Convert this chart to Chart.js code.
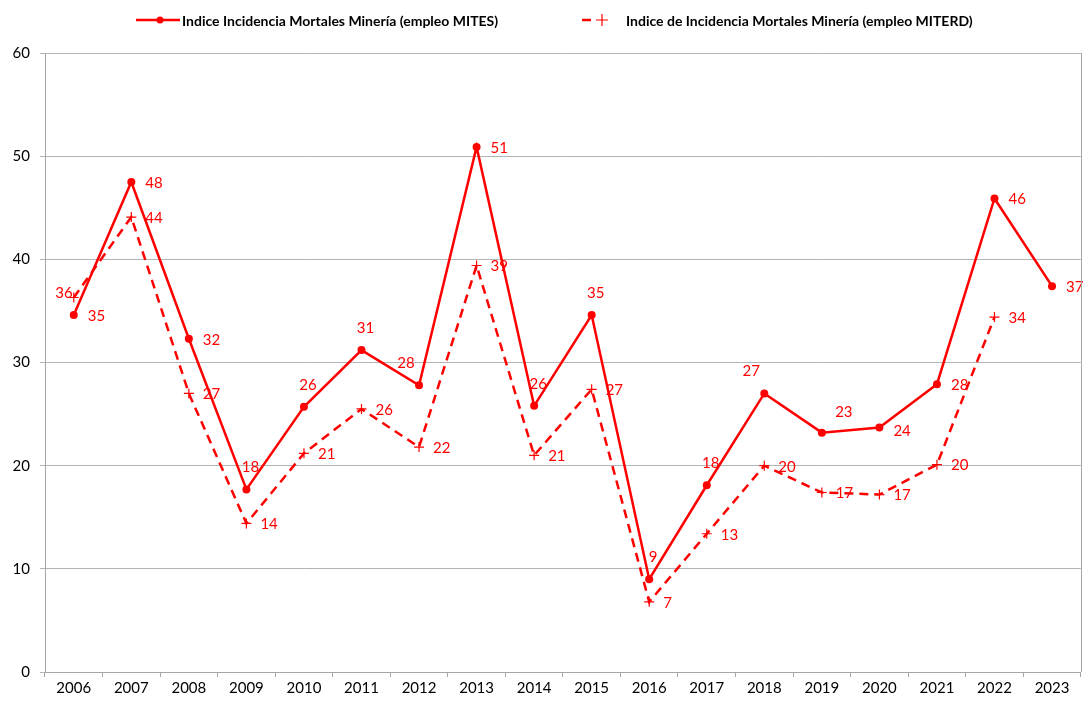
<!DOCTYPE html>
<html>
<head>
<meta charset="utf-8">
<script src="https://cdn.jsdelivr.net/npm/chart.js@4.4.1/dist/chart.umd.min.js"></script>
<style>
  html, body { margin: 0; padding: 0; background: #ffffff; overflow: hidden; }
  #wrap { width: 1083px; height: 704px; position: relative; overflow: hidden; }
</style>
</head>
<body>
<div id="wrap"><canvas id="chart" width="1087" height="704"></canvas></div>
<script>
// years on the category axis
const years = ['2006', '2007', '2008', '2009', '2010', '2011', '2012', '2013', '2014',
    '2015', '2016', '2017', '2018', '2019', '2020', '2021', '2022', '2023'];

// Indice Incidencia Mortales Minería (empleo MITES)
const mitesValues = [34.6, 47.5, 32.3, 17.7, 25.7, 31.2, 27.8, 50.9, 25.8,
    34.6, 9.0, 18.1, 27.0, 23.2, 23.7, 27.9, 45.9, 37.4];

// Indice de Incidencia Mortales Minería (empleo MITERD)
const miterdValues = [36.3, 44.1, 27.0, 14.4, 21.2, 25.5, 21.8, 39.4, 21.0,
    27.4, 6.8, 13.4, 20.0, 17.4, 17.2, 20.1, 34.4, null];

const yTicks = [0, 10, 20, 30, 40, 50, 60];

const legendLabels = ['Indice Incidencia Mortales Minería (empleo MITES)',
    'Indice de Incidencia Mortales Minería (empleo MITERD)'];

// where each data label sits relative to its point
const mitesLabelPos = ['r', 'r', 'r', 't', 't', 't', 'tl', 'r', 't',
    't', 't', 't', 'tl', 'tr', 'rb', 'r', 'r', 'r'];
const miterdLabelPos = ['l', 'r', 'r', 'r', 'r', 'r', 'r', 'r', 'r',
    'r', 'r', 'r', 'r', 'r', 'r', 'r', 'r', 'r'];

const RED = '#ff0000';
const FONT = 'Lato, "Liberation Sans", sans-serif';

const labelOffsets = {
    r:  { dx: 14, dy: 1, align: 'left' },
    rb: { dx: 14, dy: 4, align: 'left' },
    t:  { dx: 4, dy: -22, align: 'center' },
    tl: { dx: -13, dy: -22, align: 'center' },
    tr: { dx: 22, dy: -20, align: 'center' },
    l:  { dx: -1, dy: -4, align: 'right' }
};

const dataLabelPlugin = {
    id: 'dataLabels',
    afterDatasetsDraw(chart) {
        const ctx = chart.ctx;
        ctx.save();
        ctx.font = '15px ' + FONT;
        ctx.fillStyle = RED;
        ctx.textBaseline = 'middle';
        const posLists = [mitesLabelPos, miterdLabelPos];
        chart.data.datasets.forEach((ds, di) => {
            const meta = chart.getDatasetMeta(di);
            meta.data.forEach((pt, i) => {
                const v = ds.data[i];
                if (v === null || v === undefined) return;
                const o = labelOffsets[posLists[di][i]];
                ctx.textAlign = o.align;
                ctx.fillText(String(Math.round(v)), pt.x + o.dx, pt.y + o.dy);
            });
        });
        ctx.restore();
    }
};

const frameAndLegendPlugin = {
    id: 'frameAndLegend',
    afterDraw(chart) {
        const ctx = chart.ctx;
        const area = chart.chartArea;
        ctx.save();
        // right border of the plot area
        ctx.strokeStyle = '#a6a6a6';
        ctx.lineWidth = 1;
        ctx.beginPath();
        ctx.moveTo(Math.round(area.right) + 0.5, area.top);
        ctx.lineTo(Math.round(area.right) + 0.5, area.bottom);
        ctx.stroke();

        // legend
        const y = 20;
        ctx.strokeStyle = RED;
        ctx.fillStyle = RED;
        // item 1: solid line with dot
        ctx.lineWidth = 2.5;
        ctx.beginPath();
        ctx.moveTo(136, y);
        ctx.lineTo(180, y);
        ctx.stroke();
        ctx.beginPath();
        ctx.arc(160, y, 3.5, 0, Math.PI * 2);
        ctx.fill();
        // item 2: dashed line with cross
        ctx.lineWidth = 2.5;
        ctx.beginPath();
        ctx.moveTo(582, y);
        ctx.lineTo(591, y);
        ctx.stroke();
        ctx.lineWidth = 1.2;
        ctx.beginPath();
        ctx.moveTo(596, y);
        ctx.lineTo(608, y);
        ctx.moveTo(602, y - 6);
        ctx.lineTo(602, y + 6);
        ctx.stroke();

        ctx.fillStyle = '#000000';
        ctx.font = 'bold 14px ' + FONT;
        ctx.textAlign = 'left';
        ctx.textBaseline = 'middle';
        ctx.fillText(legendLabels[0], 182, y + 1);
        ctx.fillText(legendLabels[1], 626, y + 1);
        ctx.restore();
    }
};

const ctx = document.getElementById('chart').getContext('2d');
new Chart(ctx, {
    type: 'line',
    data: {
        labels: years,
        datasets: [
            {
                label: legendLabels[0],
                data: mitesValues,
                borderColor: RED,
                backgroundColor: RED,
                borderWidth: 2.5,
                pointStyle: 'circle',
                pointRadius: 4,
                pointBorderWidth: 0,
                pointBackgroundColor: RED,
                tension: 0,
                fill: false
            },
            {
                label: legendLabels[1],
                data: miterdValues,
                borderColor: RED,
                backgroundColor: RED,
                borderWidth: 2.5,
                borderDash: [9, 6],
                pointStyle: 'cross',
                pointRadius: 5,
                pointBorderWidth: 1.2,
                pointBorderColor: RED,
                tension: 0,
                fill: false,
                spanGaps: false
            }
        ]
    },
    options: {
        responsive: false,
        animation: false,
        layout: { padding: { top: 53, right: 0, left: 0, bottom: 0 } },
        plugins: {
            legend: { display: false },
            tooltip: { enabled: false }
        },
        scales: {
            x: {
                offset: true,
                afterFit(scale) {
                    scale.height = 32;
                    scale.paddingRight = 0;
                    scale.paddingLeft = 0;
                },
                grid: {
                    offset: true,
                    drawOnChartArea: false,
                    drawTicks: true,
                    tickLength: 5,
                    color: '#a6a6a6'
                },
                border: { color: '#a6a6a6', width: 1 },
                ticks: {
                    color: '#000000',
                    font: { family: FONT, size: 15 },
                    padding: 2,
                    maxRotation: 0,
                    autoSkip: false
                }
            },
            y: {
                min: 0,
                max: 60,
                afterFit(scale) { scale.width = 45; },
                afterBuildTicks(scale) { scale.ticks = yTicks.map(v => ({ value: v })); },
                grid: {
                    color: '#b4b4b4',
                    lineWidth: 1,
                    drawTicks: true,
                    tickLength: 5
                },
                border: { color: '#a6a6a6', width: 1 },
                ticks: {
                    color: '#000000',
                    font: { family: FONT, size: 15 },
                    padding: 10
                }
            }
        }
    },
    plugins: [dataLabelPlugin, frameAndLegendPlugin]
});
</script>
</body>
</html>
